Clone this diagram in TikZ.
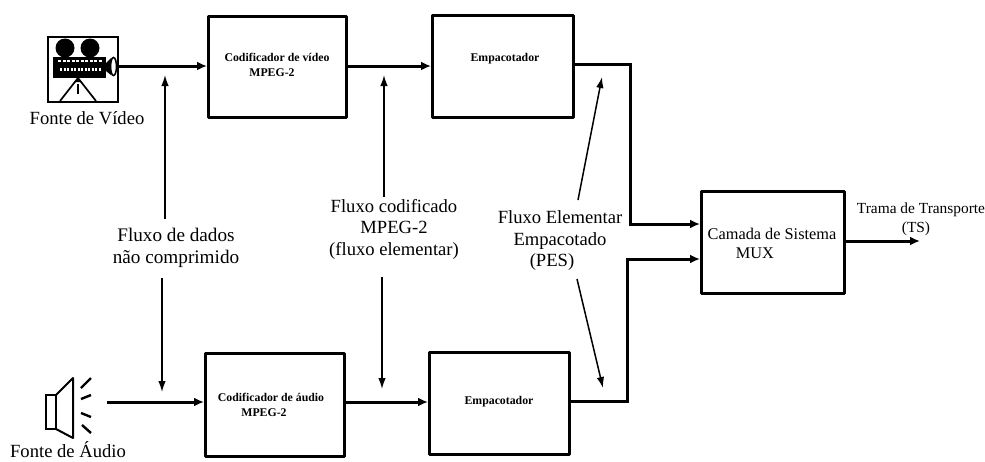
\documentclass[tikz,border=0pt]{standalone}
\usepackage{fontspec}
\setmainfont{Liberation Serif}
\usetikzlibrary{arrows.meta}
\tikzset{
 x=1pt,y=-1pt,
 blockbox/.style={draw,line width=3pt,line join=round,inner sep=0pt,anchor=north west,align=center},
 thick line/.style={line width=3pt,line join=miter,-{Latex[length=10pt,width=9pt]}},
 thin line/.style={line width=1.5pt,-{Latex[length=11pt,width=7.5pt]}},
 bigtext/.style={font=\fontsize{18.6}{21.5}\selectfont,align=center},
 smalltext/.style={font=\fontsize{11.8}{15}\selectfont\bfseries,align=center},
}
\begin{document}
\begin{tikzpicture}
\useasboundingbox (0,0) rectangle (985,461);
\node[blockbox,minimum width=138pt,minimum height=101pt] (enc1) at (207,15) {};
\node[blockbox,minimum width=141pt,minimum height=102pt] (emp1) at (431,14) {};
\node[blockbox,minimum width=139pt,minimum height=103pt] (enc2) at (204,352) {};
\node[blockbox,minimum width=140pt,minimum height=102pt] (emp2) at (428,351) {};
\node[blockbox,minimum width=143pt,minimum height=102pt] (mux) at (700,190) {};
\node[smalltext] (t1) at (277,65) {Codificador de vídeo\\MPEG-2\hspace*{10pt}};
\node[smalltext] (t2) at (505,59) {Empacotador};
\node[smalltext] (t3) at (271,405) {Codificador de áudio\\MPEG-2\hspace*{14pt}};
\node[smalltext] (t4) at (499,402) {Empacotador};
\node[font=\fontsize{16.3}{19}\selectfont,align=center] (t5) at (772,243) {Camada de Sistema\\MUX\hspace*{34pt}};
\node[font=\fontsize{15.4}{19}\selectfont,align=center] (t6) at (921,219) {Trama de Transporte\\\hspace*{-10pt}(TS)};
\node[bigtext] (fv) at (87,118) {Fonte de Vídeo};
\node[bigtext] (fa) at (68,450) {Fonte de Áudio};
\node[bigtext,font=\fontsize{19.2}{22}\selectfont] (l1) at (176,248) {Fluxo de dados\\não comprimido};
\node[bigtext] (l2) at (394,229) {Fluxo codificado\\MPEG-2\hspace*{22pt}\\(fluxo elementar)};
\node[bigtext] (l3) at (560,241) {Fluxo Elementar\\Empacotado\hspace*{20pt}\\(PES)\hspace*{16pt}};
% camera
\coordinate (cam) at (118,66);
\draw[line width=2pt] (48,37) rectangle (118,102);
\fill (65,48) circle (9.5pt) (90,48) circle (9.5pt);
\fill (53,57) rectangle (106,78);
\draw[white,line width=1.5pt,dash pattern=on 3pt off 1.5pt] (58,61) -- (102,61);
\draw[white,line width=3pt,dash pattern=on 2pt off 1.5pt] (60,69) -- (101,69);
\fill (106,63) -- (111,58) -- (111,75) -- (106,71) -- cycle;
\draw[line width=1.6pt] (113.5,66.5) ellipse (3pt and 9pt);
\fill (78,78) -- (74,82) -- (82,82) -- cycle;
\draw[line width=1.7pt] (78,78) -- (60,101) (78,78) -- (96,101);
\draw[line width=1.7pt] (78,84) -- (78,94);
% speaker
\coordinate (spk) at (107,402);
\draw[line width=2pt] (46,395) rectangle (56,429);
\draw[line width=2pt,line join=round] (56,395) -- (73,378) -- (73,438) -- (56,429);
\draw[line width=2.4pt] (81,388) -- (91,378) (81,399) -- (91,395) (81,413) -- (91,417) (82,425) -- (91,433);
% flows
\draw[thick line] (cam) -- (enc1.west |- cam);
\draw[thick line] (spk) -- (enc2.west |- spk);
\draw[thick line] (enc1.east |- cam) -- (emp1.west |- cam);
\coordinate (a2) at (344,402);
\draw[thick line] (enc2.east |- a2) -- (emp2.west |- a2);
\coordinate (in1) at (700,224);
\coordinate (in2) at (700,259);
\coordinate (o1) at (572,64);
\coordinate (o2) at (568,401);
\coordinate (v1) at (630,64);
\coordinate (v2) at (627,401);
\draw[thick line] (emp1.east |- o1) -- (v1) -- (v1 |- in1) -- (mux.west |- in1);
\draw[thick line] (emp2.east |- o2) -- (v2) -- (v2 |- in2) -- (mux.west |- in2);
\coordinate (out) at (920,241);
\draw[thick line] (mux.east |- out) -- (out);
% label pointers
\coordinate (s1) at (165,219); \coordinate (e1) at (165,75);
\coordinate (s2) at (162,278); \coordinate (e2) at (162,392);
\coordinate (s3) at (384,197); \coordinate (e3) at (384,75);
\coordinate (s4) at (382,277); \coordinate (e4) at (382,389);
\coordinate (s5) at (578,200); \coordinate (e5) at (602,77);
\coordinate (s6) at (577,279); \coordinate (e6) at (603,388);
\draw[thin line] (s1) -- (e1);
\draw[thin line] (s2) -- (e2);
\draw[thin line] (s3) -- (e3);
\draw[thin line] (s4) -- (e4);
\draw[thin line] (s5) -- (e5);
\draw[thin line] (s6) -- (e6);
\end{tikzpicture}
\end{document}
